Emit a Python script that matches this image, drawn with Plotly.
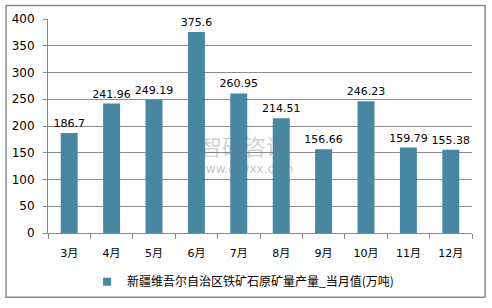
import plotly.graph_objects as go

months = ["3月", "4月", "5月", "6月", "7月", "8月", "9月", "10月", "11月", "12月"]
values = [186.7, 241.96, 249.19, 375.6, 260.95, 214.51, 156.66, 246.23, 159.79, 155.38]
labels = ["186.7", "241.96", "249.19", "375.6", "260.95", "214.51", "156.66", "246.23", "159.79", "155.38"]
series_name = "新疆维吾尔自治区铁矿石原矿量产量_当月值(万吨)"
y_ticks = [0, 50, 100, 150, 200, 250, 300, 350, 400]

font_family = "DejaVu Sans, Noto Sans CJK SC, sans-serif"

fig = go.Figure()
fig.add_trace(go.Bar(
    x=months, y=values, name=series_name,
    text=labels, textposition="outside", cliponaxis=False, constraintext="none",
    textfont=dict(size=11, color="#000000", family=font_family),
    marker=dict(color="#4787a2", line=dict(width=0)),
    showlegend=False,
))
fig.add_trace(go.Scatter(
    x=[None], y=[None], mode="markers", name=series_name,
    marker=dict(symbol="square", size=8, color="#4787a2"),
    showlegend=True,
))

fig.update_layout(
    width=492, height=308,
    margin=dict(l=48, r=20, t=17, b=71),
    paper_bgcolor="white", plot_bgcolor="white",
    bargap=0.6,
    font=dict(family=font_family, size=11, color="#000000"),
    showlegend=True,
    legend=dict(orientation="h", x=0.46, xanchor="center", y=-0.16, yanchor="top",
                font=dict(size=12, family="Noto Sans CJK SC, sans-serif"),
                itemwidth=30, tracegroupgap=0),
    xaxis=dict(showline=True, linecolor="#888888", linewidth=1,
               ticks="outside", tickson="boundaries", ticklen=5, tickcolor="#888888",
               tickfont=dict(size=11), ticklabelstandoff=10),
    yaxis=dict(range=[0, 400], tickvals=y_ticks, showgrid=True, gridcolor="#8c8c8c",
               gridwidth=1, showline=True, linecolor="#888888", ticks="outside",
               ticklen=4, tickcolor="#888888", zeroline=False,
               tickfont=dict(size=12), ticklabelstandoff=6),
    shapes=[dict(type="rect", xref="paper", yref="paper",
                 x0=-0.099, x1=1.031, y0=-0.3, y1=1.0636,
                 line=dict(color="#8c8c8c", width=1.5), fillcolor="rgba(0,0,0,0)")],
    annotations=[
        dict(text="智研咨询", x=(244 - 48) / 424, y=(234 - 145) / 217, xref="paper", yref="paper",
             xanchor="center", yanchor="middle",
             showarrow=False, font=dict(size=22, color="rgba(110,120,130,0.35)",
                                        family="Noto Sans CJK SC")),
        dict(text="www.chyxx.com", x=(244 - 48) / 424, y=(234 - 169) / 217, xref="paper", yref="paper",
             xanchor="center", yanchor="middle",
             showarrow=False, font=dict(size=12, color="rgba(110,120,130,0.45)",
                                        family="DejaVu Sans")),
    ],
)

fig.write_html("out.html")
